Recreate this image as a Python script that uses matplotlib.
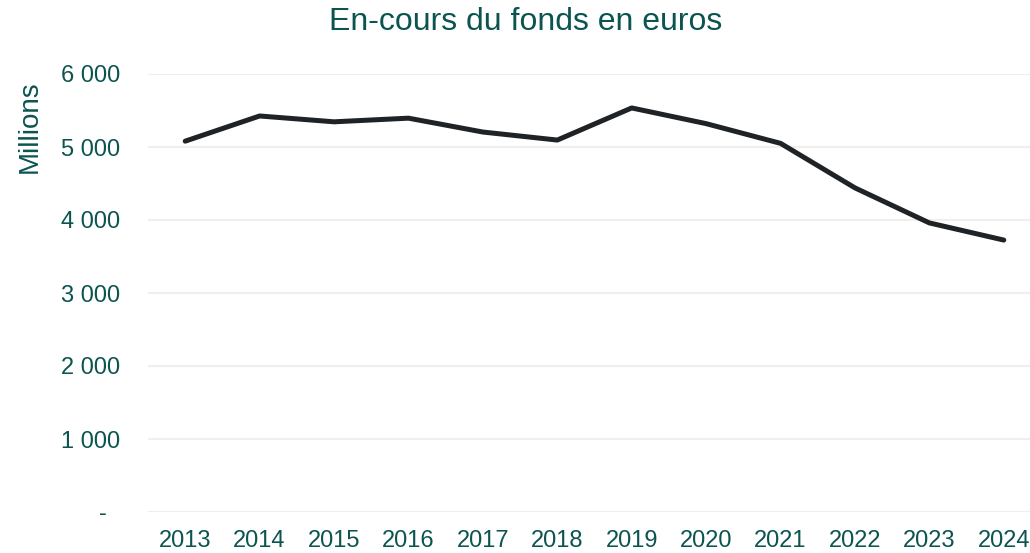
import matplotlib
matplotlib.use('Agg')
import matplotlib.pyplot as plt
from matplotlib.ticker import FuncFormatter

# values (millions of euros)
years = ['2013', '2014', '2015', '2016', '2017', '2018',
         '2019', '2020', '2021', '2022', '2023', '2024']
encours = [5080, 5425, 5345, 5395, 5205, 5095,
           5535, 5320, 5050, 4440, 3960, 3725]
yticks = [0, 1000, 2000, 3000, 4000, 5000, 6000]

teal = '#0b5450'
grid_col = '#f3eee9'
line_col = '#1f2326'

plt.rcParams['font.family'] = ['Liberation Sans', 'DejaVu Sans']

fig = plt.figure(figsize=(10.30, 5.53), dpi=100)
# axes box in pixels: left 148, right ~1041, bottom 512, top 74
ax = fig.add_axes([148/1030, (553-512)/553, (1041-148)/1030, (512-74)/553])

xs = range(len(years))
ax.plot(xs, encours, color=line_col, lw=3.6, solid_capstyle='round',
        solid_joinstyle='round', zorder=3)

ax.set_xlim(-0.5, len(years) - 0.5)
ax.set_ylim(0, 6000)
ax.set_xticks(list(xs))
ax.set_xticklabels(years)
ax.set_yticks(yticks)

def fmt(v, pos):
    if v == 0:
        return '-\u2007'
    return f'{int(v):,}'.replace(',', ' ')

ax.yaxis.set_major_formatter(FuncFormatter(fmt))
ax.grid(axis='y', color=grid_col, lw=1.5, zorder=0)
ax.set_axisbelow(True)

for s in ax.spines.values():
    s.set_visible(False)
ax.tick_params(axis='both', length=0, labelsize=17, colors=teal)
ax.tick_params(axis='y', pad=20)
ax.tick_params(axis='x', pad=13)

ax.text(30/1030, 1 - 127/553, 'Millions', color=teal, fontsize=20,
        rotation=90, ha='center', va='center', transform=fig.transFigure)

fig.text(526/1030, 1 - 22/553, 'En-cours du fonds en euros', color=teal,
         fontsize=23, ha='center', va='center')

fig.savefig('out.png', dpi=100)
